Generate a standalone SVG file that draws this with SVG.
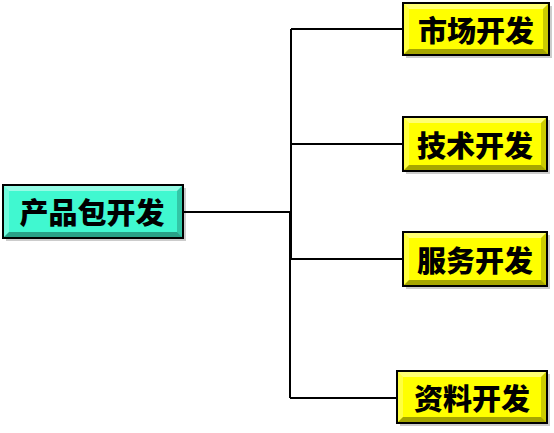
<svg xmlns="http://www.w3.org/2000/svg" width="554" height="433" viewBox="0 0 554 433">
<style>
.ln{stroke:#000;stroke-width:2;fill:none}
.frame{stroke:#000;stroke-width:2}
.teal{fill:#40f8d0}
.yel{fill:#ffff00}
.hl{fill:#fff;opacity:0.45}
.hl2{fill:#fff;opacity:0.25}
.sh{fill:#000;opacity:0.35}
.sh2{fill:#000;opacity:0.2}
.shadow{fill:#000;opacity:0.2}
.t{font-family:"Noto Sans CJK SC","Noto Sans CJK JP",sans-serif;font-weight:900;font-size:29px;fill:#000;text-anchor:middle;dominant-baseline:central}
</style>
<g id="connectors">
<path class="ln" d="M183,212 H290"/>
<path class="ln" d="M291,29 V259"/>
<path class="ln" d="M290,212 V398"/>
<path class="ln" d="M291,29 H403"/>
<path class="ln" d="M291,144 H403"/>
<path class="ln" d="M291,259 H403"/>
<path class="ln" d="M290,398 H397"/>
</g>
<g id="main">
<rect class="shadow" x="6" y="188" width="180" height="53"/>
<rect class="teal frame" x="3" y="185" width="180" height="53"/>
<polygon class="hl" points="4,186 182,186 177,191 9,191"/>
<polygon class="hl2" points="4,186 9,191 9,232 4,237"/>
<polygon class="sh" points="4,237 9,232 177,232 182,237"/>
<polygon class="sh2" points="182,186 182,237 177,232 177,191"/>
<text class="t" x="92" y="211">产品包开发</text>
</g>
<g id="n1">
<rect class="shadow" x="406" y="6" width="146" height="52"/>
<rect class="yel frame" x="403" y="3" width="146" height="52"/>
<polygon class="hl" points="404,4 548,4 543,9 409,9"/>
<polygon class="hl2" points="404,4 409,9 409,49 404,54"/>
<polygon class="sh" points="404,54 409,49 543,49 548,54"/>
<polygon class="sh2" points="548,4 548,54 543,49 543,9"/>
<text class="t" x="476" y="29">市场开发</text>
</g>
<g id="n2">
<rect class="shadow" x="406" y="120" width="144" height="54"/>
<rect class="yel frame" x="403" y="117" width="144" height="54"/>
<polygon class="hl" points="404,118 546,118 541,123 409,123"/>
<polygon class="hl2" points="404,118 409,123 409,165 404,170"/>
<polygon class="sh" points="404,170 409,165 541,165 546,170"/>
<polygon class="sh2" points="546,118 546,170 541,165 541,123"/>
<text class="t" x="475" y="144">技术开发</text>
</g>
<g id="n3">
<rect class="shadow" x="406" y="235" width="144" height="54"/>
<rect class="yel frame" x="403" y="232" width="144" height="54"/>
<polygon class="hl" points="404,233 546,233 541,238 409,238"/>
<polygon class="hl2" points="404,233 409,238 409,280 404,285"/>
<polygon class="sh" points="404,285 409,280 541,280 546,285"/>
<polygon class="sh2" points="546,233 546,285 541,280 541,238"/>
<text class="t" x="475" y="259">服务开发</text>
</g>
<g id="n4">
<rect class="shadow" x="400" y="374" width="150" height="52"/>
<rect class="yel frame" x="397" y="371" width="150" height="52"/>
<polygon class="hl" points="398,372 546,372 541,377 403,377"/>
<polygon class="hl2" points="398,372 403,377 403,417 398,422"/>
<polygon class="sh" points="398,422 403,417 541,417 546,422"/>
<polygon class="sh2" points="546,372 546,422 541,417 541,377"/>
<text class="t" x="472" y="397">资料开发</text>
</g>
</svg>
